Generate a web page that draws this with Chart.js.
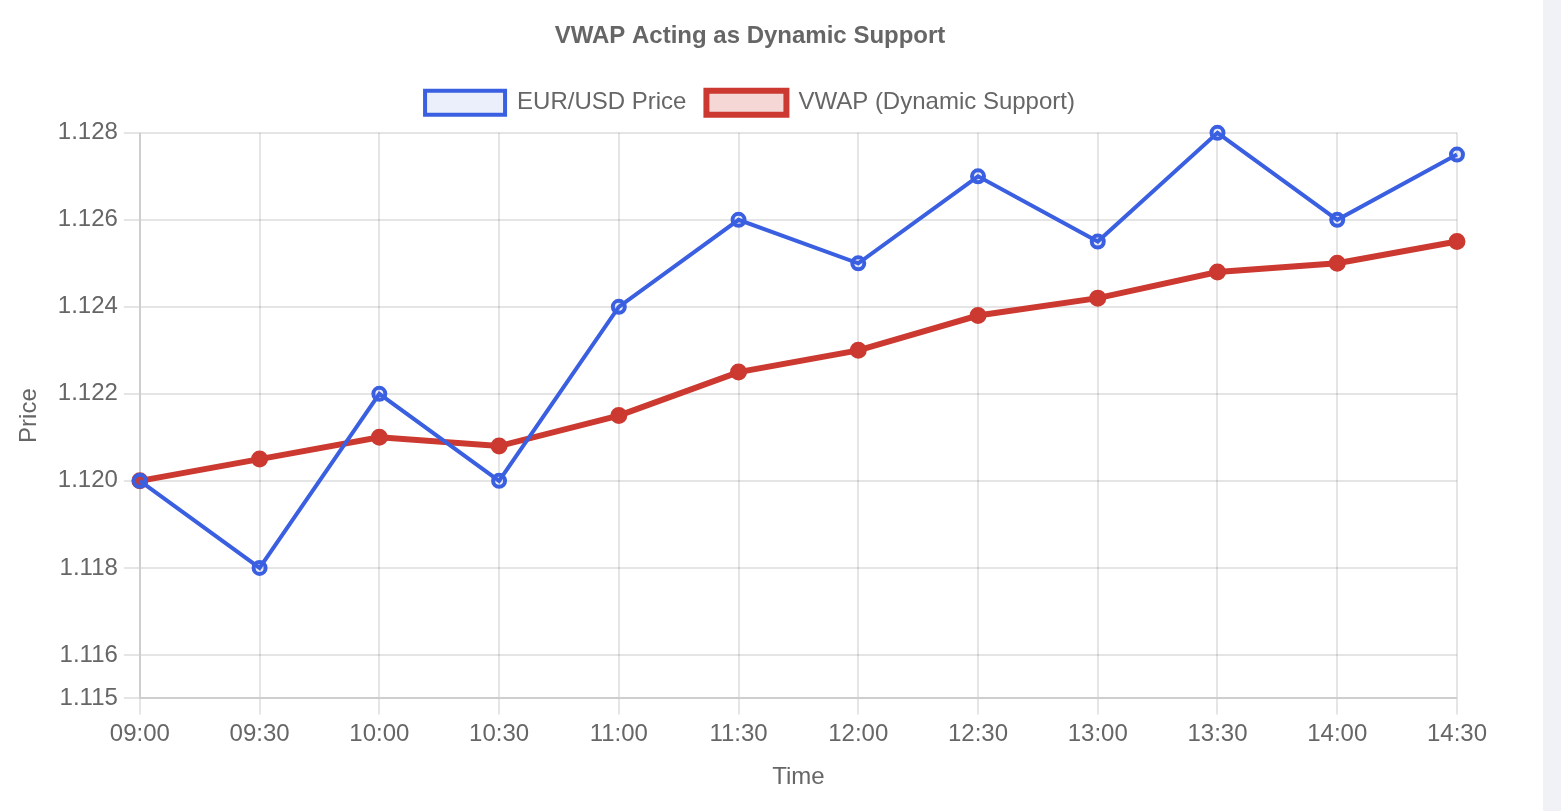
<!DOCTYPE html>
<html>
<head>
<meta charset="utf-8">
<title>VWAP Acting as Dynamic Support</title>
<script src="https://cdn.jsdelivr.net/npm/chart.js@4.4.0/dist/chart.umd.min.js"></script>
<style>
  html, body { margin: 0; padding: 0; background: #f1f2f5; overflow: hidden; }
  #page { width: 1543px; height: 811px; background: #fff; }
  #wrap { position: relative; left: 7px; width: 1486px; height: 800px; }
</style>
</head>
<body>
<div id="page">
  <div id="wrap"><canvas id="chart"></canvas></div>
</div>
<script>
// times along the x axis
const times = ['09:00', '09:30', '10:00', '10:30', '11:00', '11:30',
               '12:00', '12:30', '13:00', '13:30', '14:00', '14:30'];

// EUR/USD price
const priceValues = [1.1200, 1.1180, 1.1220, 1.1200, 1.1240, 1.1260,
                     1.1250, 1.1270, 1.1255, 1.1280, 1.1260, 1.1275];

// VWAP line
const vwapValues = [1.1200, 1.1205, 1.1210, 1.1208, 1.1215, 1.1225,
                    1.1230, 1.1238, 1.1242, 1.1248, 1.1250, 1.1255];

// y ticks as shown
const yTicks = [1.115, 1.116, 1.118, 1.120, 1.122, 1.124, 1.126, 1.128];

const BLUE = 'rgb(58, 95, 224)';
const RED = 'rgb(204, 57, 48)';
const FONT = "'Liberation Sans', Arial, Helvetica, sans-serif";

Chart.defaults.font.family = FONT;
Chart.defaults.font.size = 24;
Chart.defaults.color = '#666';

// a bit more room under the legend
const legendGap = {
  id: 'legendGap',
  beforeInit(chart) {
    const fit = chart.legend.fit;
    chart.legend.fit = function () {
      fit.bind(chart.legend)();
      this.height += 8;
    };
  }
};

new Chart(document.getElementById('chart'), {
  type: 'line',
  data: {
    labels: times,
    datasets: [
      {
        label: 'EUR/USD Price',
        data: priceValues,
        borderColor: BLUE,
        backgroundColor: 'rgba(58, 95, 224, 0.1)',
        borderWidth: 4,
        pointRadius: 6,
        pointBorderWidth: 4,
        pointBackgroundColor: 'rgba(58, 95, 224, 0.1)',
        tension: 0,
        clip: false
      },
      {
        label: 'VWAP (Dynamic Support)',
        data: vwapValues,
        borderColor: RED,
        backgroundColor: 'rgba(204, 57, 48, 0.2)',
        borderWidth: 6,
        pointRadius: 7,
        pointBorderWidth: 3,
        pointBackgroundColor: RED,
        tension: 0,
        clip: false
      }
    ]
  },
  options: {
    responsive: true,
    maintainAspectRatio: false,
    animation: false,
    plugins: {
      title: {
        display: true,
        text: 'VWAP Acting as Dynamic Support',
        font: { size: 24, weight: 'bold' },
        padding: { top: 22, bottom: 20 }
      },
      legend: {
        labels: { boxWidth: 80, boxHeight: 24, padding: 20 }
      },
      tooltip: { enabled: false }
    },
    scales: {
      x: {
        title: { display: true, text: 'Time', padding: 8 },
        grid: { lineWidth: 2, tickLength: 16 },
        border: { width: 2 },
        ticks: { padding: 6 }
      },
      y: {
        min: 1.115,
        max: 1.128,
        title: { display: true, text: 'Price', padding: 8 },
        grid: { lineWidth: 2, tickLength: 16 },
        border: { width: 2 },
        ticks: { padding: 6, callback: v => Number(v).toFixed(3) },
        afterBuildTicks: scale => {
          scale.ticks = yTicks.map(v => ({ value: v }));
        }
      }
    }
  },
  plugins: [legendGap]
});
</script>
</body>
</html>
